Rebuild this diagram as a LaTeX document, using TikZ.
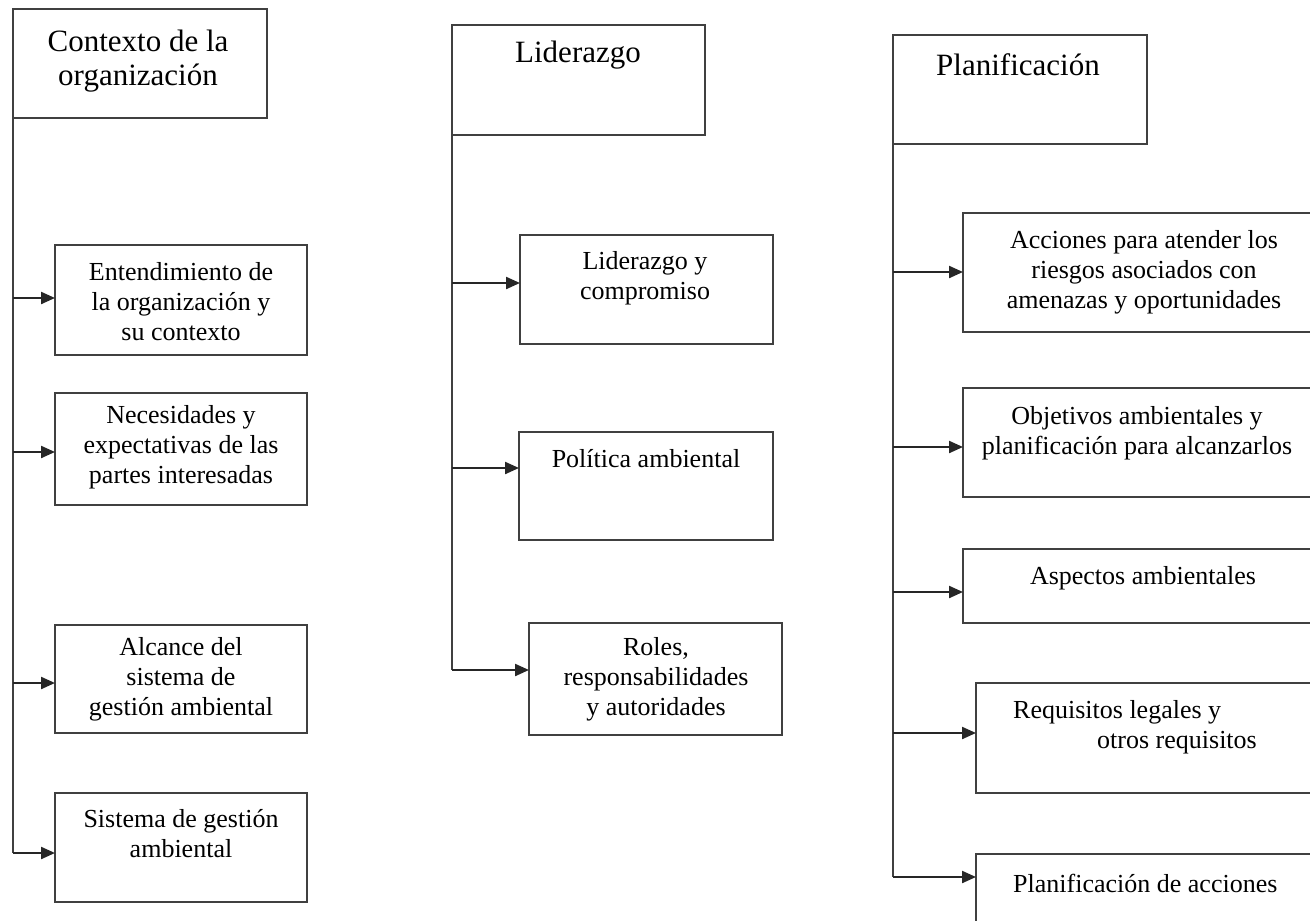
\documentclass[tikz,border=0pt]{standalone}
\usepackage{fontspec}
\setmainfont{Liberation Serif}
\usetikzlibrary{arrows.meta}
\begin{document}
\begin{tikzpicture}[x=1pt,y=-1pt,
  box/.style={draw=black!75, line width=2pt, rectangle, inner sep=0pt, outer sep=0pt, anchor=north west},
  head/.style={font=\fontsize{31}{34}\selectfont, align=center, inner sep=0pt},
  body/.style={font=\fontsize{26}{30}\selectfont, align=center, inner sep=0pt},
  bodyl/.style={font=\fontsize{26}{30}\selectfont, align=left, inner sep=0pt, anchor=west},
  trunk/.style={draw=black!75, line width=2pt},
  conn/.style={draw=black!85, line width=2.2pt, -{Triangle[length=14pt,width=12pt]}}
]
\useasboundingbox (0,0) rectangle (1310,921);
\clip (0,0) rectangle (1310,921);
\fill[white] (0,0) rectangle (1310,921);

% ---------- left column ----------
\node[box, minimum width=254pt, minimum height=109pt] (h1) at (13,9) {};
\node[head] (h1t) at (138,61) {Contexto de la\\organización};
\node[box, minimum width=252pt, minimum height=110pt] (b11) at (55,245) {};
\node[body] (b11t) at (181,302) {Entendimiento de\\la organización y\\su contexto};
\node[box, minimum width=252pt, minimum height=112pt] (b12) at (55,393) {};
\node[body] (b12t) at (181,447) {Necesidades y\\expectativas de las\\partes interesadas};
\node[box, minimum width=252pt, minimum height=108pt] (b13) at (55,625) {};
\node[body] (b13t) at (181,679) {Alcance del\\sistema de\\gestión ambiental};
\node[box, minimum width=252pt, minimum height=109pt] (b14) at (55,793) {};
\node[body] (b14t) at (181,834) {Sistema de gestión\\ambiental};
\coordinate (a11) at (13,298);
\coordinate (a12) at (13,452);
\coordinate (a13) at (13,683);
\coordinate (a14) at (13,853);
\draw[trunk] (h1.south west) -- (a14);
\foreach \a/\b in {a11/b11,a12/b12,a13/b13,a14/b14}
  \draw[conn] (\a) -- (\a -| \b.west);

% ---------- middle column ----------
\node[box, minimum width=253pt, minimum height=110pt] (h2) at (452,25) {};
\node[head] (h2t) at (578,55) {Liderazgo};
\node[box, minimum width=253pt, minimum height=109pt] (b21) at (520,235) {};
\node[body] (b21t) at (645,278) {Liderazgo y\\compromiso};
\node[box, minimum width=254pt, minimum height=108pt] (b22) at (519,432) {};
\node[body] (b22t) at (646,459) {Política ambiental};
\node[box, minimum width=253pt, minimum height=112pt] (b23) at (529,623) {};
\node[body] (b23t) at (656,679) {Roles,\\responsabilidades\\y autoridades};
\coordinate (a21) at (452,283);
\coordinate (a22) at (452,468);
\coordinate (a23) at (452,670);
\draw[trunk] (h2.south west) -- (a23);
\foreach \a/\b in {a21/b21,a22/b22,a23/b23}
  \draw[conn] (\a) -- (\a -| \b.west);

% ---------- right column ----------
\node[box, minimum width=254pt, minimum height=109pt] (h3) at (893,35) {};
\node[head] (h3t) at (1018,65) {Planificación};
\node[box, minimum width=400pt, minimum height=119pt] (b31) at (963,213) {};
\node[body] (b31t) at (1144,272) {Acciones para atender los\\riesgos asociados con\\amenazas y oportunidades};
\node[box, minimum width=400pt, minimum height=109pt] (b32) at (963,388) {};
\node[body] (b32t) at (1137,433) {Objetivos ambientales y\\planificación para alcanzarlos};
\node[box, minimum width=400pt, minimum height=74pt] (b33) at (963,549) {};
\node[body] (b33t) at (1143,578) {Aspectos ambientales};
\node[box, minimum width=400pt, minimum height=110pt] (b34) at (976,683) {};
\node[bodyl] (b34t) at (1013,727) {Requisitos legales y\\\hspace*{84pt}otros requisitos};
\node[box, minimum width=400pt, minimum height=120pt] (b35) at (976,854) {};
\node[bodyl] (b35t) at (1013,883) {Planificación de acciones};
\coordinate (a31) at (893,272);
\coordinate (a32) at (893,447);
\coordinate (a33) at (893,592);
\coordinate (a34) at (893,733);
\coordinate (a35) at (893,877);
\draw[trunk] (h3.south west) -- (a35);
\foreach \a/\b in {a31/b31,a32/b32,a33/b33,a34/b34,a35/b35}
  \draw[conn] (\a) -- (\a -| \b.west);
\end{tikzpicture}
\end{document}
